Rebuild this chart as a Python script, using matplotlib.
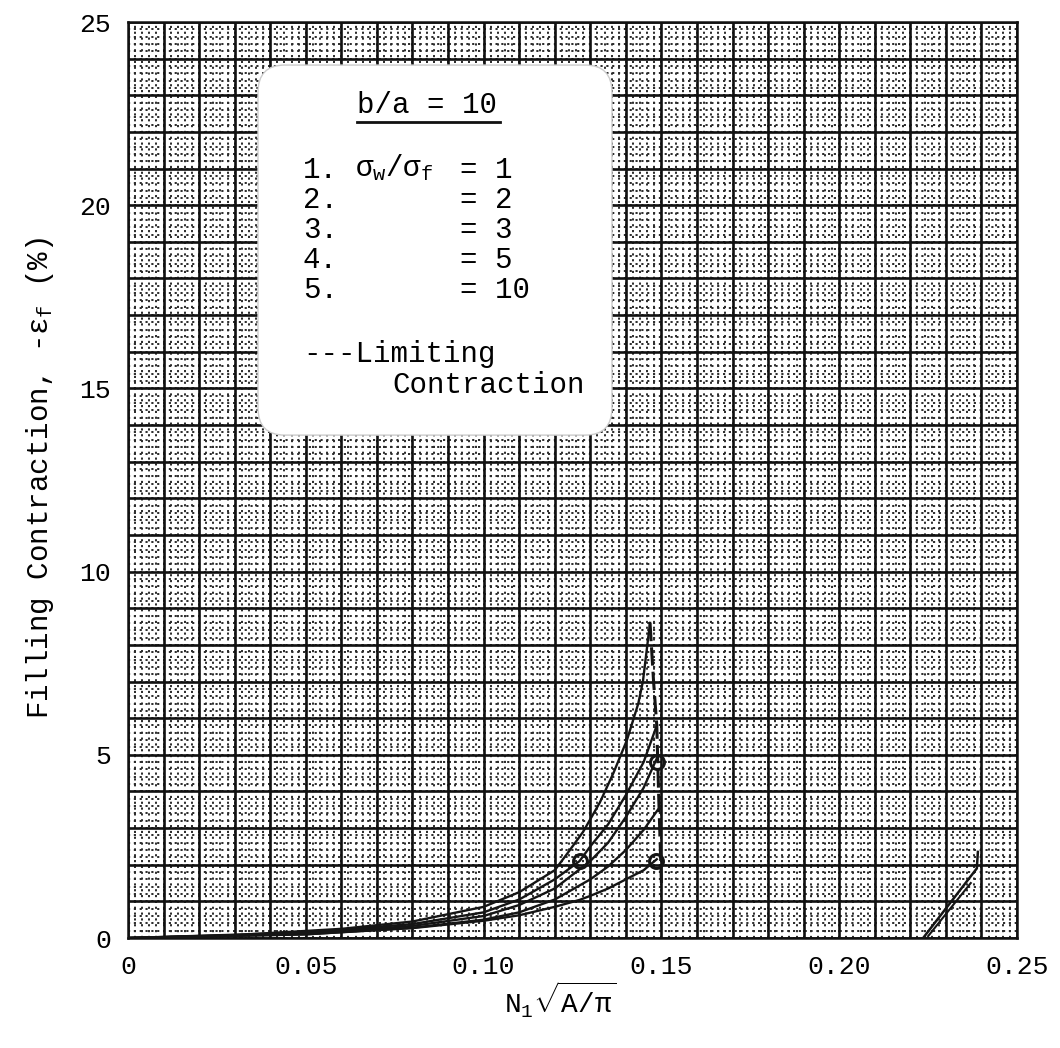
import numpy as np
import matplotlib
matplotlib.use("Agg")
import matplotlib.pyplot as plt
from matplotlib.patches import FancyBboxPatch
from matplotlib.lines import Line2D

plt.rcParams["font.family"] = ["Liberation Mono", "DejaVu Sans"]
plt.rcParams["mathtext.fontset"] = "custom"
plt.rcParams["mathtext.rm"] = "Liberation Mono"
plt.rcParams["mathtext.it"] = "Liberation Mono"
plt.rcParams["mathtext.bf"] = "Liberation Mono:bold"

# ---- data: filling contraction curves, b/a = 10 ----
x1 = [0.0, 0.03, 0.06, 0.08, 0.10, 0.11, 0.12, 0.1235, 0.128, 0.1327, 0.1365, 0.1403, 0.1435, 0.1448, 0.1468]
y1 = [0.0, 0.08, 0.25, 0.45, 0.85, 1.25, 1.85, 2.3, 2.9, 3.7, 4.5, 5.4, 6.4, 7.0, 8.6]

x2 = [0.0, 0.05, 0.08, 0.10, 0.11, 0.12, 0.127, 0.13, 0.135, 0.14, 0.145, 0.1487]
y2 = [0.0, 0.15, 0.38, 0.70, 1.05, 1.6, 2.1, 2.5, 3.1, 3.9, 4.8, 5.8]

x3 = [0.0, 0.05, 0.08, 0.10, 0.11, 0.12, 0.13, 0.135, 0.14, 0.145, 0.1487]
y3 = [0.0, 0.12, 0.33, 0.60, 0.90, 1.35, 2.1, 2.6, 3.3, 4.1, 4.9]

x4 = [0.0, 0.05, 0.08, 0.10, 0.11, 0.12, 0.13, 0.135, 0.14, 0.145, 0.149]
y4 = [0.0, 0.10, 0.28, 0.50, 0.70, 1.05, 1.6, 1.95, 2.4, 2.95, 3.5]

x5 = [0.0, 0.05, 0.08, 0.10, 0.11, 0.12, 0.127, 0.13, 0.135, 0.14, 0.145, 0.1487]
y5 = [0.0, 0.10, 0.27, 0.47, 0.62, 0.85, 1.04, 1.15, 1.35, 1.6, 1.85, 2.15]

# limiting contraction through the curve ends
x_lim = [0.1468, 0.1478, 0.1487, 0.1492, 0.1500]
y_lim = [8.6, 7.0, 5.8, 4.0, 1.5]

# short branch near the right edge
xb1 = [0.2236, 0.2387, 0.2390]
yb1 = [0.0, 1.9, 2.35]
xb2 = [0.2250, 0.2370]
yb2 = [0.05, 1.5]

# plotted reference points
xm = [0.127, 0.1485, 0.1487]
ym = [2.1, 2.1, 4.8]

xticks = [0, 0.05, 0.10, 0.15, 0.20, 0.25]
xticklabels = ["0", "0.05", "0.10", "0.15", "0.20", "0.25"]
yticks = [0, 5, 10, 15, 20, 25]

W, H = 1060, 1048
fig = plt.figure(figsize=(W / 100, H / 100), dpi=100)
ax = fig.add_axes([128 / W, 1 - 938 / H, (1017 - 128) / W, (938 - 22) / H])
ax.set_xlim(0, 0.25)
ax.set_ylim(0, 25)

# graph-paper grid
fine_x = np.arange(0, 0.2501, 0.002)
fine_y = np.arange(0, 25.01, 0.2)
ax.vlines(fine_x, 0, 25, colors="#2a2a2a", linewidth=1.4,
          linestyles=(0, (1.1, 1.9)), zorder=0.5)
ax.hlines(fine_y, 0, 0.25, colors="#2a2a2a", linewidth=1.4,
          linestyles=(0, (1.1, 1.9)), zorder=0.5)
ax.vlines(np.arange(0, 0.2501, 0.01), 0, 25, colors="#111111", linewidth=1.9, zorder=0.6)
ax.hlines(np.arange(0, 25.01, 1), 0, 0.25, colors="#111111", linewidth=1.9, zorder=0.6)

for s in ax.spines.values():
    s.set_linewidth(1.8)
    s.set_color("#111111")

ax.set_xticks(xticks)
ax.set_xticklabels(xticklabels)
ax.set_yticks(yticks)
ax.tick_params(length=0, labelsize=19, pad=12)

# legend panel
box = FancyBboxPatch((0.1462, 0.549), 0.5444 - 0.1462, 0.953 - 0.549,
                     boxstyle="round,pad=0,rounding_size=0.03",
                     transform=ax.transAxes, facecolor="white",
                     edgecolor="#cccccc", linewidth=1.0, zorder=2)
ax.add_patch(box)

# curves
line_kw = dict(color="#151515", linewidth=1.7, zorder=3)
for xs, ys in [(x1, y1), (x2, y2), (x3, y3), (x4, y4), (x5, y5)]:
    ax.plot(xs, ys, **line_kw)
ax.plot(x_lim, y_lim, color="#151515", linewidth=2.2, linestyle=(0, (6, 2)), zorder=3)
ax.plot(xb1, yb1, color="#151515", linewidth=1.8, zorder=3)
ax.plot(xb2, yb2, color="#151515", linewidth=1.5, zorder=3)
ax.plot(xm, ym, linestyle="none", marker="o", markersize=10,
        markerfacecolor="none", markeredgecolor="#151515", markeredgewidth=2.2, zorder=4)

# axis titles
fig.text(560 / W, 1 - 1000 / H, r"N$_1\sqrt{\mathrm{A}/\pi}$", ha="center", va="center", fontsize=20)
fig.text(40 / W, 1 - 478 / H, r"Filling Contraction, -$\varepsilon_f$ (%)",
         rotation=90, ha="center", va="center", fontsize=21)

# legend text
def ptext(x, y, s, **kw):
    fig.text(x / W, 1 - y / H, s, ha="left", va="center", fontsize=21, zorder=5, **kw)

ptext(357, 105, "b/a = 10")
fig.add_artist(Line2D([357 / W, 500 / W], [1 - 122 / H, 1 - 122 / H],
                      color="#111111", linewidth=2.0))
rows = ["1.", "2.", "3.", "4.", "5."]
vals = ["= 1", "= 2", "= 3", "= 5", "= 10"]
for i, (r, v) in enumerate(zip(rows, vals)):
    yy = 170 + 30 * i
    ptext(303, yy, r)
    ptext(460, yy, v)
ptext(355, 168, r"$\sigma_{w}/\sigma_{f}$")
ptext(303, 354, "---Limiting")
ptext(392, 385, "Contraction")

fig.savefig("out.png", dpi=100)
